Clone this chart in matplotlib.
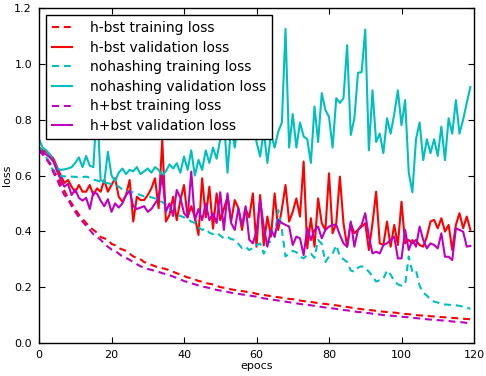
import matplotlib
matplotlib.use("Agg")
import matplotlib.pyplot as plt
import numpy as np

epochs = list(range(120))

h_bst_train = [
    0.69, 0.68, 0.665, 0.645, 0.62, 0.595, 0.57, 0.545, 0.52, 0.50,
    0.48, 0.46, 0.445, 0.43, 0.415, 0.405, 0.395, 0.38, 0.375, 0.37,
    0.355, 0.35, 0.34, 0.335, 0.33, 0.32, 0.31, 0.305, 0.30, 0.29,
    0.285, 0.28, 0.275, 0.27, 0.268, 0.265, 0.26, 0.255, 0.25, 0.245,
    0.24, 0.235, 0.232, 0.228, 0.222, 0.22, 0.215, 0.212, 0.21, 0.205,
    0.20, 0.198, 0.196, 0.192, 0.19, 0.188, 0.186, 0.184, 0.182, 0.18,
    0.176, 0.174, 0.172, 0.17, 0.168, 0.166, 0.164, 0.162, 0.16, 0.158,
    0.157, 0.155, 0.152, 0.15, 0.149, 0.147, 0.145, 0.143, 0.141, 0.14,
    0.138, 0.136, 0.135, 0.133, 0.131, 0.129, 0.127, 0.125, 0.123, 0.121,
    0.12, 0.118, 0.117, 0.115, 0.114, 0.112, 0.111, 0.11, 0.109, 0.107,
    0.106, 0.104, 0.103, 0.102, 0.1, 0.099, 0.098, 0.097, 0.096, 0.095,
    0.094, 0.093, 0.092, 0.091, 0.09, 0.089, 0.088, 0.087, 0.086, 0.085,
]

h_bst_val = [
    0.70, 0.69, 0.685, 0.675, 0.66, 0.63, 0.60, 0.573, 0.584, 0.56,
    0.54, 0.566, 0.542, 0.542, 0.566, 0.53, 0.554, 0.542, 0.584, 0.542,
    0.566, 0.59, 0.524, 0.506, 0.53, 0.584, 0.435, 0.524, 0.512, 0.512,
    0.53, 0.554, 0.59, 0.483, 0.728, 0.435, 0.459, 0.524, 0.44, 0.512,
    0.566, 0.45, 0.49, 0.45, 0.387, 0.59, 0.45, 0.56, 0.41, 0.536,
    0.44, 0.48, 0.524, 0.435, 0.512, 0.483, 0.405, 0.48, 0.45, 0.536,
    0.345, 0.53, 0.35, 0.453, 0.381, 0.536, 0.405, 0.48, 0.566, 0.435,
    0.47, 0.518, 0.453, 0.65, 0.339, 0.447, 0.345, 0.518, 0.429, 0.405,
    0.608, 0.393, 0.429, 0.596, 0.429, 0.345, 0.429, 0.393, 0.405, 0.417,
    0.429, 0.333, 0.429, 0.542, 0.357, 0.351, 0.435, 0.345, 0.423, 0.351,
    0.506, 0.357, 0.369, 0.357, 0.369, 0.351, 0.345, 0.381, 0.435, 0.441,
    0.411, 0.447, 0.399, 0.423, 0.333, 0.423, 0.465, 0.411, 0.453, 0.405,
]

nohash_train = [
    0.70, 0.685, 0.665, 0.64, 0.615, 0.60, 0.598, 0.597, 0.596, 0.596,
    0.595, 0.595, 0.594, 0.596, 0.592, 0.585, 0.582, 0.578, 0.575, 0.572,
    0.57, 0.568, 0.56, 0.55, 0.545, 0.54, 0.54, 0.535, 0.53, 0.525,
    0.525, 0.522, 0.518, 0.51, 0.505, 0.495, 0.48, 0.47, 0.459, 0.455,
    0.45, 0.445, 0.435, 0.43, 0.415, 0.405, 0.41, 0.395, 0.39, 0.395,
    0.385, 0.375, 0.38, 0.372, 0.37, 0.355, 0.34, 0.345, 0.333, 0.34,
    0.35, 0.357, 0.32, 0.357, 0.365, 0.38, 0.476, 0.405, 0.31, 0.32,
    0.33, 0.325, 0.31, 0.303, 0.315, 0.32, 0.305, 0.369, 0.355, 0.29,
    0.31, 0.32, 0.35, 0.31, 0.30, 0.29, 0.26, 0.255, 0.27, 0.275,
    0.27, 0.255, 0.24, 0.22, 0.225, 0.23, 0.26, 0.245, 0.222, 0.21,
    0.205, 0.21, 0.31, 0.255, 0.26, 0.205, 0.18, 0.17, 0.155, 0.148,
    0.145, 0.14, 0.138, 0.137, 0.136, 0.135, 0.133, 0.13, 0.127, 0.122,
]

nohash_val = [
    0.73, 0.70, 0.69, 0.675, 0.65, 0.625, 0.62, 0.622, 0.625, 0.63,
    0.645, 0.665, 0.63, 0.67, 0.635, 0.63, 0.86, 0.584, 0.575, 0.685,
    0.60, 0.58, 0.61, 0.625, 0.605, 0.62, 0.615, 0.63, 0.605, 0.615,
    0.625, 0.61, 0.63, 0.62, 0.60, 0.615, 0.64, 0.625, 0.644, 0.61,
    0.668, 0.62, 0.69, 0.60, 0.656, 0.62, 0.69, 0.645, 0.70, 0.66,
    0.73, 0.80, 0.61, 0.78, 0.70, 0.80, 0.76, 0.82, 0.74, 0.80,
    0.72, 0.668, 0.76, 0.645, 0.75, 0.70, 0.757, 0.79, 1.125, 0.70,
    0.82, 0.70, 0.79, 0.74, 0.73, 0.645, 0.847, 0.72, 0.895, 0.835,
    0.81, 0.70, 0.877, 0.86, 0.877, 1.067, 0.745, 0.805, 0.968, 0.97,
    1.123, 0.69, 0.905, 0.72, 0.75, 0.68, 0.805, 0.75, 0.82, 0.905,
    0.78, 0.87, 0.61, 0.54, 0.73, 0.79, 0.655, 0.73, 0.68, 0.73,
    0.67, 0.775, 0.655, 0.805, 0.75, 0.87, 0.75, 0.80, 0.86, 0.917,
]

hp_bst_train = [
    0.69, 0.675, 0.66, 0.64, 0.61, 0.585, 0.555, 0.53, 0.515, 0.49,
    0.47, 0.45, 0.435, 0.42, 0.405, 0.39, 0.38, 0.37, 0.355, 0.345,
    0.335, 0.33, 0.32, 0.31, 0.305, 0.298, 0.29, 0.282, 0.275, 0.27,
    0.265, 0.262, 0.258, 0.255, 0.25, 0.247, 0.243, 0.238, 0.233, 0.228,
    0.222, 0.218, 0.214, 0.21, 0.206, 0.202, 0.2, 0.197, 0.194, 0.19,
    0.188, 0.185, 0.183, 0.18, 0.178, 0.176, 0.174, 0.172, 0.17, 0.168,
    0.166, 0.163, 0.16, 0.158, 0.156, 0.154, 0.152, 0.15, 0.148, 0.146,
    0.144, 0.142, 0.14, 0.138, 0.137, 0.135, 0.133, 0.131, 0.129, 0.127,
    0.126, 0.124, 0.122, 0.12, 0.118, 0.117, 0.115, 0.113, 0.111, 0.11,
    0.108, 0.107, 0.105, 0.104, 0.102, 0.1, 0.099, 0.098, 0.097, 0.095,
    0.094, 0.093, 0.092, 0.09, 0.089, 0.088, 0.087, 0.085, 0.084, 0.083,
    0.082, 0.081, 0.08, 0.079, 0.077, 0.076, 0.075, 0.074, 0.072, 0.071,
]

hp_bst_val = [
    0.69, 0.685, 0.675, 0.665, 0.65, 0.615, 0.585, 0.56, 0.57, 0.53,
    0.55, 0.52, 0.51, 0.52, 0.48, 0.54, 0.535, 0.51, 0.49, 0.515,
    0.47, 0.50, 0.485, 0.50, 0.53, 0.545, 0.49, 0.48, 0.485, 0.49,
    0.47, 0.48, 0.50, 0.52, 0.60, 0.47, 0.50, 0.455, 0.548, 0.52,
    0.465, 0.45, 0.614, 0.44, 0.48, 0.44, 0.50, 0.44, 0.465, 0.43,
    0.54, 0.405, 0.536, 0.43, 0.405, 0.483, 0.42, 0.49, 0.37, 0.357,
    0.40, 0.512, 0.417, 0.345, 0.405, 0.381, 0.441, 0.43, 0.423, 0.417,
    0.351, 0.381, 0.375, 0.315, 0.411, 0.369, 0.405, 0.417, 0.375, 0.405,
    0.417, 0.423, 0.423, 0.387, 0.357, 0.345, 0.435, 0.345, 0.405, 0.423,
    0.465, 0.381, 0.321, 0.327, 0.321, 0.351, 0.357, 0.369, 0.381, 0.303,
    0.303, 0.405, 0.333, 0.369, 0.345, 0.417, 0.369, 0.339, 0.357, 0.351,
    0.339, 0.393, 0.309, 0.309, 0.297, 0.411, 0.405, 0.399, 0.345, 0.348,
]

series = [
    ("h-bst training loss", h_bst_train, "#ff0000", "dashed"),
    ("h-bst validation loss", h_bst_val, "#ff0000", "solid"),
    ("nohashing training loss", nohash_train, "#00bfbf", "dashed"),
    ("nohashing validation loss", nohash_val, "#00bfbf", "solid"),
    ("h+bst training loss", hp_bst_train, "#bf00bf", "dashed"),
    ("h+bst validation loss", hp_bst_val, "#bf00bf", "solid"),
]

plt.rcParams.update({
    "font.family": "DejaVu Sans",
    "font.size": 8,
    "xtick.direction": "in",
    "ytick.direction": "in",
    "xtick.top": True,
    "ytick.right": True,
    "xtick.major.size": 4,
    "ytick.major.size": 4,
    "xtick.major.pad": 5,
    "ytick.major.pad": 5,
    "axes.linewidth": 1.0,
    "lines.scale_dashes": False,
})

fig = plt.figure(figsize=(4.86, 3.76), dpi=100)
ax = fig.add_axes([39 / 486, 1 - 343 / 376, (474 - 39) / 486, (343 - 8) / 376])

for label, vals, color, ls in series:
    if ls == "dashed":
        ax.plot(epochs, vals, color=color, lw=1.5, linestyle=(0, (5, 3.5)), label=label)
    else:
        ax.plot(epochs, vals, color=color, lw=1.5, linestyle="-", label=label)

ax.set_xlim(0, 120)
ax.set_ylim(0.0, 1.2)
ax.set_xticks(np.arange(0, 121, 20))
ax.set_yticks(np.arange(0, 1.21, 0.2))
ax.yaxis.set_major_formatter(matplotlib.ticker.FormatStrFormatter("%.1f"))
ax.set_xlabel("epocs", fontsize=8, labelpad=1)
ax.set_ylabel("loss", fontsize=8, labelpad=2)

leg = ax.legend(loc="upper left", fontsize=10, fancybox=False, framealpha=1,
                edgecolor="black", handlelength=1.4, handletextpad=1.3,
                labelspacing=0.4, borderpad=0.45, borderaxespad=0.5)
leg.get_frame().set_linewidth(1.0)

fig.savefig("out.png", dpi=100, facecolor="white")
